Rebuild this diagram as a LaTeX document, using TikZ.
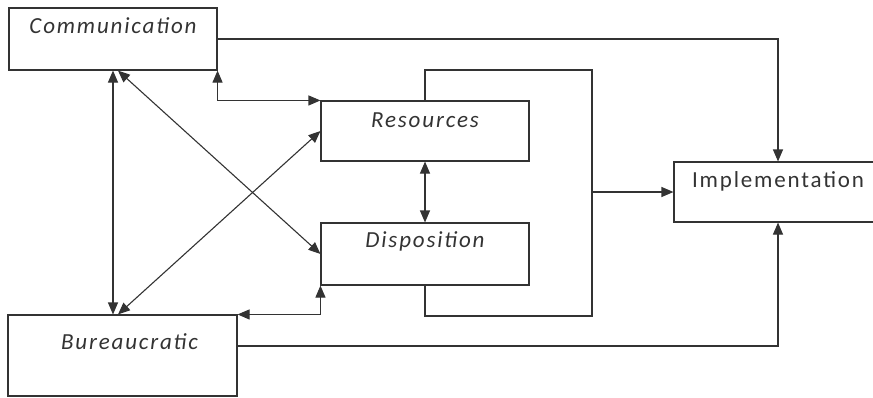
\documentclass[tikz,border=0pt]{standalone}
\usepackage{fontspec}
\setmainfont{Carlito}[LetterSpace=8]
\usetikzlibrary{arrows.meta,positioning}

\tikzset{
    box/.style={draw=black!80, line width=1.1pt, minimum width=208pt, minimum height=62pt, inner sep=0pt},
    txt/.style={anchor=base, inner sep=0pt, text=black!80, font=\fontsize{23}{27}\selectfont\itshape},
    link/.style={draw=black!80, line width=1.1pt},
    >={Triangle[length=12pt,width=10pt]}
}

\begin{document}
\begin{tikzpicture}[x=1pt,y=-1pt]
    \useasboundingbox (0,0) rectangle (873,397);

    % Boxes.
    \node[box] (comm) at (113,39) {};
    \node[box, minimum height=60pt] (res) at (425,131) {};
    \node[box] (disp) at (425,254) {};
    \node[box, minimum height=60pt] (impl) at (778,192) {};
    \node[box, minimum width=229pt, minimum height=81pt] (bur) at (122.5,355.5) {};

    % Box texts.
    \node[txt] (commtxt) at ([yshift=-26pt]comm.north) {Communication};
    \node[txt] (restxt) at ([yshift=-27pt]res.north) {Resources};
    \node[txt] (disptxt) at ([yshift=-25pt]disp.north) {Disposition};
    \node[txt, font=\fontsize{23}{27}\selectfont] (impltxt) at ([yshift=-26pt]impl.north) {Implementation};
    \node[txt] (burtxt) at ([xshift=7pt,yshift=-35pt]bur.north) {Bureaucratic};

    % Connector ends.
    \coordinate (commd) at ([xshift=5pt]comm.south);
    \coordinate (burd) at (commd |- bur.north);
    \coordinate (burout) at ([yshift=9.5pt]bur.east);
    \coordinate (brtop) at (592,70);
    \coordinate (brbot) at (592,316);
    \coordinate (brmid) at (592,192);

    % Links between the factors.
    \draw[link,<->] (comm.south) -- (comm.south |- bur.north);
    \draw[link,<->] (commd) -- (disp.west);
    \draw[link,<->] (burd) -- (res.west);
    \draw[link,<->] (comm.south east) |- (res.north west);
    \draw[link,<->] (disp.south west) |- (bur.north east);
    \draw[link,<->] (res.south) -- (disp.north);

    % Links to implementation.
    \draw[link] (res.north) |- (brtop) -- (brbot) -| (disp.south);
    \draw[link,->] (brmid) -- (impl.west);
    \draw[link,->] (comm.east) -| (impl.north);
    \draw[link,->] (burout) -| (impl.south);
\end{tikzpicture}
\end{document}
